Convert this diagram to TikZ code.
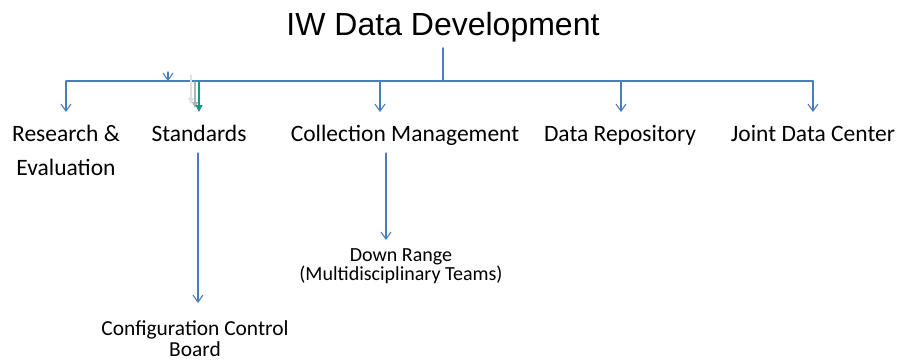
\documentclass[tikz,border=0pt]{standalone}
\usepackage{fontspec}
\setmainfont{Carlito}
\newfontfamily\titlefont{Liberation Sans}
\usetikzlibrary{arrows.meta}
\definecolor{linkblue}{RGB}{74,126,187}
\definecolor{tealmark}{RGB}{22,150,136}
\begin{document}
\begin{tikzpicture}[x=1pt,y=-1pt,line cap=round,line join=round,
  >={Straight Barb[length=7pt,width=10pt]},
  link/.style={line width=1.1pt,draw=linkblue},
  unit/.style={inner sep=0pt,anchor=base,align=center,font=\fontsize{23.5}{34}\selectfont},
  subunit/.style={inner sep=0pt,anchor=base,align=center,font=\fontsize{20}{19}\selectfont}]
  \useasboundingbox (0,0) rectangle (899,360);
  % title and top level units
  \node[inner sep=0pt,anchor=base,font=\titlefont\fontsize{32}{38}\selectfont] (iw) at (443,35) {IW Data Development};
  \node[unit] (re) at (66,175) {Research \&\\Evaluation};
  \node[unit] (st) at (199,141) {Standards};
  \node[unit] (cm) at (405,141) {Collection Management};
  \node[unit] (dr) at (620,141) {Data Repository};
  \node[unit] (jd) at (813,141) {Joint Data Center};
  % lower units
  \node[subunit] (dn) at (401,280) {Down Range\\(Multidisciplinary Teams)};
  \node[subunit,font=\fontsize{21.4}{20.5}\selectfont] (cb) at (195,356) {Configuration Control\\Board};
  % bar
  \coordinate (bar) at (443,81);
  \coordinate (reTop) at (66,81);
  \coordinate (cmTop) at (380,81);
  \coordinate (drTop) at (621,81);
  \coordinate (jdTop) at (813,81);
  \coordinate (stTop) at (199,82);
  \coordinate (stray) at (168,81);
  \coordinate (stFoot) at (198,153);
  \coordinate (cmFoot) at (386,153);
  \draw[link,shorten <=6pt] (iw.south) -- (iw.south |- bar);
  \draw[link] (reTop) -- (jdTop);
  \draw[link,->] (reTop) -- (66,112);
  \draw[link,->] (cmTop) -- (380,112);
  \draw[link,->] (drTop) -- (621,112);
  \draw[link,->] (jdTop) -- (813,112);
  \draw[link,->] ([yshift=9pt]stray) -- (stray);
  % marks on the standards drop
  \draw[gray!25,line width=1.1pt,-{Triangle[length=6pt,width=6pt]}] (191,75) -- (191,104);
  \draw[gray!60,line width=1.1pt,-{Triangle[length=6pt,width=6pt]}] (195,82) -- (195,108);
  \draw[tealmark,line width=1.1pt,-{Triangle[length=7pt,width=7pt]}] (stTop) -- (199,112);
  % second level
  \draw[link,->] (stFoot) -- (stFoot |- 0,303);
  \draw[link,->] (cmFoot) -- (cmFoot |- 0,240);
\end{tikzpicture}
\end{document}
